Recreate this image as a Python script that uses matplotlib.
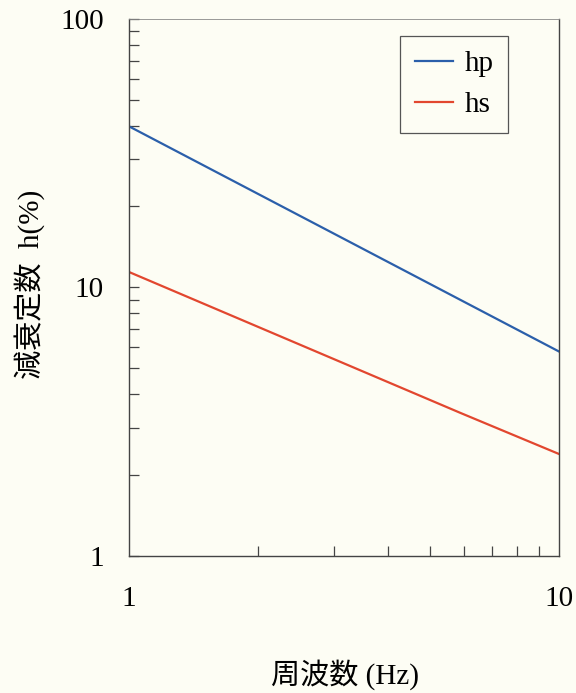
import matplotlib
matplotlib.use("Agg")
import matplotlib.pyplot as plt
from matplotlib.ticker import LogLocator, NullFormatter, FixedLocator, FixedFormatter

freq_hp = [1, 10]
hp = [39.8, 5.76]
freq_hs = [1, 5.9, 10]
hs = [11.4, 3.40, 2.39]
series_labels = ["hp", "hs"]
xticks = [1, 10]
xticklabels = ["1", "10"]
yticks = [1, 10, 100]
yticklabels = ["1", "10", "100"]

bg = "#fdfdf4"
serif = ["Liberation Serif", "DejaVu Serif"]
mixed = ["Liberation Serif", "Noto Sans CJK JP", "DejaVu Sans"]

fig = plt.figure(figsize=(5.76, 6.93), dpi=100, facecolor=bg)
ax = fig.add_axes([129/576, 1-555.5/693, (559-129)/576, (555.5-19)/693])
ax.set_facecolor(bg)

ax.plot(freq_hp, hp, color="#2b5faa", lw=1.6, label=series_labels[0])
ax.plot(freq_hs, hs, color="#e2472f", lw=1.6, label=series_labels[1])

ax.set_xscale("log")
ax.set_yscale("log")
ax.set_xlim(1, 10)
ax.set_ylim(1, 100)

ax.xaxis.set_major_locator(FixedLocator(xticks))
ax.xaxis.set_major_formatter(FixedFormatter(xticklabels))
ax.yaxis.set_major_locator(FixedLocator(yticks))
ax.yaxis.set_major_formatter(FixedFormatter(yticklabels))
ax.xaxis.set_minor_locator(LogLocator(base=10, subs=range(2, 10)))
ax.yaxis.set_minor_locator(LogLocator(base=10, subs=range(2, 10)))
ax.xaxis.set_minor_formatter(NullFormatter())
ax.yaxis.set_minor_formatter(NullFormatter())

ax.tick_params(axis="both", which="both", direction="in", top=False, right=False,
               color="#444444", width=0.9)
ax.tick_params(axis="both", which="major", length=7, labelsize=21)
ax.tick_params(axis="y", which="major", pad=18)
ax.tick_params(axis="both", which="minor", length=7)
ax.tick_params(axis="x", which="major", length=0, pad=22)
for lab in ax.get_xticklabels() + ax.get_yticklabels():
    lab.set_family(serif)

for s in ax.spines.values():
    s.set_color("#444444")
    s.set_linewidth(1.0)
ax.spines["top"].set_linewidth(0.6)
ax.spines["top"].set_color("#888888")

leg = ax.legend(loc="upper right", bbox_to_anchor=(508/576, 1-36/693), bbox_transform=fig.transFigure,
                frameon=True, fancybox=False, framealpha=1, facecolor=bg, edgecolor="#555555",
                prop={"family": serif, "size": 21}, handlelength=1.3, handletextpad=0.4,
                borderpad=0.5, labelspacing=0.5, borderaxespad=0)
leg.get_frame().set_linewidth(0.9)

fig.text(30/576, 1-284/693, "減衰定数  h(%)", rotation=90, ha="center", va="center",
         fontsize=21, family=mixed)
fig.text(345/576, 1-675/693, "周波数 (Hz)", ha="center", va="center",
         fontsize=21, family=mixed)

fig.savefig("out.png", dpi=100, facecolor=bg)
